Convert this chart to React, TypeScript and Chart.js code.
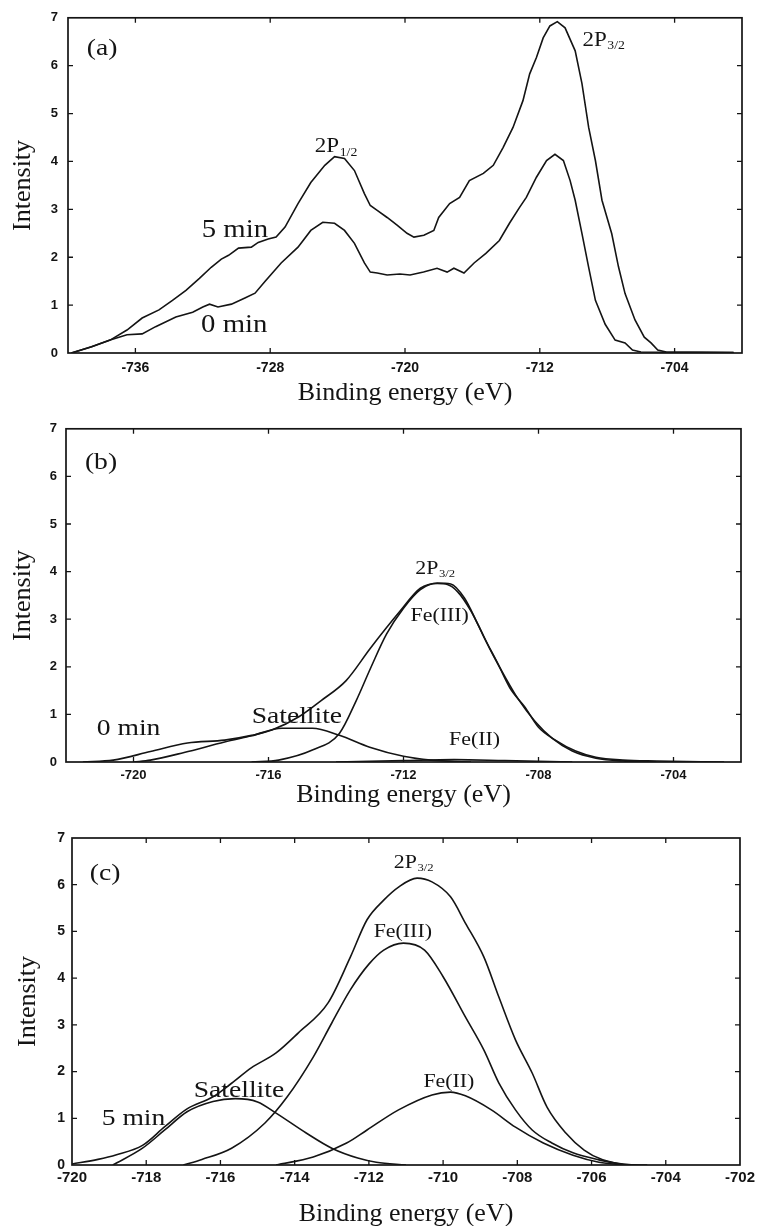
import React, { useEffect, useRef } from 'react';
import { Chart, registerables } from 'chart.js';

Chart.register(...registerables);

const SERIF = '"Liberation Serif", "Times New Roman", Times, serif';
const SANS = '"Liberation Sans", Arial, Helvetica, sans-serif';
const INK = '#141414';
const STRETCH = 1.15;

// ---------- Panel (a): Fe 2p spectra, 0 min and 5 min ----------
const aTicksX = [-736, -728, -720, -712, -704];
const aEnergy5 = [-739.8, -738.6, -737.5, -736.5, -735.6, -734.6, -733.8, -733.0, -732.2, -731.5, -730.9, -730.47, -729.88, -729.12, -728.71, -728.12, -727.65, -727.12, -726.35, -725.59, -724.76, -724.18, -723.59, -723.0, -722.41, -722.06, -721.65, -721.06, -720.47, -719.88, -719.47, -718.88, -718.29, -718.0, -717.35, -716.76, -716.18, -715.35, -714.76, -714.18, -713.59, -713.0, -712.6, -712.2, -711.8, -711.4, -710.96, -710.5, -709.9, -709.5, -709.1, -708.7, -708.31, -707.73, -707.33, -706.94, -706.35, -705.8, -705.4, -705.0, -704.5, -700.5];
const aIntensity5 = [0, 0.13, 0.27, 0.48, 0.73, 0.9, 1.1, 1.31, 1.56, 1.79, 1.96, 2.04, 2.19, 2.21, 2.31, 2.38, 2.42, 2.63, 3.12, 3.56, 3.92, 4.1, 4.06, 3.81, 3.33, 3.08, 2.98, 2.83, 2.67, 2.5, 2.42, 2.46, 2.56, 2.83, 3.12, 3.25, 3.6, 3.75, 3.92, 4.29, 4.71, 5.27, 5.83, 6.17, 6.58, 6.83, 6.92, 6.79, 6.31, 5.63, 4.71, 4.02, 3.19, 2.49, 1.8, 1.24, 0.69, 0.33, 0.21, 0.06, 0.02, 0.01];
const aEnergy0 = [-739.8, -738.6, -737.5, -736.5, -735.6, -734.8, -733.6, -732.6, -732.0, -731.6, -731.1, -730.3, -729.5, -728.9, -728.3, -727.35, -726.35, -725.59, -724.88, -724.18, -723.59, -723.0, -722.41, -722.06, -721.65, -721.06, -720.3, -719.7, -718.9, -718.1, -717.5, -717.1, -716.5, -715.9, -715.2, -714.4, -713.8, -713.2, -712.8, -712.2, -711.6, -711.1, -710.6, -710.2, -709.9, -709.5, -709.1, -708.7, -708.12, -707.53, -706.94, -706.5, -706.0, -700.5];
const aIntensity0 = [0, 0.13, 0.27, 0.38, 0.4, 0.55, 0.75, 0.85, 0.96, 1.02, 0.96, 1.02, 1.15, 1.25, 1.5, 1.88, 2.21, 2.56, 2.73, 2.71, 2.56, 2.29, 1.88, 1.69, 1.67, 1.63, 1.65, 1.63, 1.69, 1.77, 1.69, 1.77, 1.67, 1.88, 2.08, 2.35, 2.71, 3.04, 3.25, 3.67, 4.02, 4.15, 4.02, 3.6, 3.19, 2.5, 1.79, 1.1, 0.6, 0.27, 0.21, 0.06, 0.02, 0.01];

// ---------- Panel (b): 0 min, 2p3/2 deconvolution ----------
const bTicksX = [-720, -716, -712, -708, -704];
const bEnvEnergy = [-721.5, -720.6, -719.5, -718.4, -717.3, -716.5, -715.9, -715.1, -714.44, -713.7, -712.97, -712.1, -711.5, -711.0, -710.7, -710.4, -710.0, -709.6, -709.2, -708.85, -708.4, -708.0, -707.5, -706.9, -706.3, -705.5, -704.5, -702.5];
const bEnvIntensity = [0, 0.04, 0.22, 0.4, 0.46, 0.56, 0.67, 0.95, 1.29, 1.71, 2.4, 3.17, 3.65, 3.75, 3.73, 3.58, 3.17, 2.6, 2.06, 1.56, 1.15, 0.73, 0.46, 0.23, 0.1, 0.04, 0.02, 0];
const bFe3Energy = [-716.5, -715.7, -714.7, -713.9, -713.4, -712.97, -712.5, -712.0, -711.5, -711.0, -710.6, -710.2, -709.8, -709.4, -709.0, -708.6, -708.1, -707.6, -707.0, -706.3, -705.5, -704.5];
const bFe3Intensity = [0, 0.04, 0.25, 0.6, 1.29, 1.98, 2.69, 3.23, 3.62, 3.76, 3.74, 3.45, 2.9, 2.32, 1.8, 1.32, 0.85, 0.5, 0.23, 0.08, 0.02, 0];
const bFe2Energy = [-714.0, -712.0, -710.5, -709.0, -707.0];
const bFe2Intensity = [0, 0.03, 0.05, 0.03, 0];
const bSatEnergy = [-720.0, -719.5, -718.5, -717.3, -716.5, -715.6, -714.7, -713.9, -713.0, -712.0, -711.2, -710.0];
const bSatIntensity = [0, 0.04, 0.2, 0.42, 0.55, 0.71, 0.71, 0.56, 0.31, 0.12, 0.04, 0];

// ---------- Panel (c): 5 min, 2p3/2 deconvolution ----------
const cTicksX = [-720, -718, -716, -714, -712, -710, -708, -706, -704, -702];
const cEnvEnergy = [-720.0, -719.3, -718.8, -718.1, -717.5, -716.9, -716.2, -715.7, -715.17, -714.5, -713.9, -713.1, -712.5, -712.05, -711.6, -711.2, -710.7, -710.3, -709.8, -709.4, -708.9, -708.5, -708.05, -707.6, -707.2, -706.7, -706.2, -705.7, -705.0, -704.5];
const cEnvIntensity = [0.02, 0.12, 0.22, 0.42, 0.82, 1.2, 1.46, 1.75, 2.08, 2.4, 2.83, 3.47, 4.45, 5.25, 5.67, 5.95, 6.14, 6.06, 5.74, 5.18, 4.45, 3.6, 2.68, 1.97, 1.24, 0.69, 0.32, 0.11, 0.01, 0];
const cFe3Energy = [-717.0, -716.5, -715.7, -714.8, -714.2, -713.5, -713.0, -712.5, -712.0, -711.6, -711.07, -710.5, -710.0, -709.4, -708.9, -708.5, -708.05, -707.6, -707.07, -706.5, -705.8, -705.1];
const cFe3Intensity = [0, 0.12, 0.36, 0.9, 1.46, 2.31, 3.04, 3.75, 4.3, 4.6, 4.75, 4.6, 4.03, 3.17, 2.46, 1.76, 1.18, 0.75, 0.47, 0.26, 0.11, 0];
const cFe2Energy = [-714.5, -713.5, -712.6, -712.05, -711.2, -710.3, -709.8, -709.4, -708.7, -708.05, -707.3, -706.5, -705.8, -705.1];
const cFe2Intensity = [0, 0.17, 0.47, 0.75, 1.18, 1.5, 1.56, 1.48, 1.18, 0.81, 0.47, 0.21, 0.06, 0];
const cSatEnergy = [-718.9, -718.1, -717.5, -716.9, -716.2, -715.6, -715.0, -714.5, -713.7, -713.0, -712.3, -711.8, -711.0];
const cSatIntensity = [0, 0.36, 0.75, 1.14, 1.36, 1.42, 1.35, 1.11, 0.69, 0.36, 0.15, 0.06, 0];

const yTicks = [0, 1, 2, 3, 4, 5, 6, 7];

type Label = { text: string; sub?: string; x: number; y: number; size: number };

const aLabels: Label[] = [
  { text: '(a)', x: -738.88, y: 6.23, size: 24 },
  { text: '2P', sub: '1/2', x: -725.35, y: 4.19, size: 20 },
  { text: '2P', sub: '3/2', x: -709.47, y: 6.42, size: 20 },
  { text: '5 min', x: -732.06, y: 2.42, size: 25 },
  { text: '0 min', x: -732.1, y: 0.44, size: 25 },
];
const bLabels: Label[] = [
  { text: '(b)', x: -721.44, y: 6.15, size: 24 },
  { text: '2P', sub: '3/2', x: -711.65, y: 3.96, size: 19 },
  { text: 'Fe(III)', x: -711.79, y: 2.96, size: 19 },
  { text: 'Fe(II)', x: -710.65, y: 0.35, size: 19 },
  { text: 'Satellite', x: -716.5, y: 0.81, size: 24 },
  { text: '0 min', x: -721.09, y: 0.56, size: 24 },
];
const cLabels: Label[] = [
  { text: '(c)', x: -719.52, y: 6.1, size: 24 },
  { text: '2P', sub: '3/2', x: -711.33, y: 6.36, size: 19 },
  { text: 'Fe(III)', x: -711.87, y: 4.88, size: 19 },
  { text: 'Fe(II)', x: -710.53, y: 1.67, size: 19 },
  { text: 'Satellite', x: -716.72, y: 1.46, size: 24 },
  { text: '5 min', x: -719.2, y: 0.86, size: 24 },
];

const labelPlugin = {
  id: 'panelLabels',
  afterDatasetsDraw(chart: any, _args: any, opts: any) {
    const { ctx } = chart;
    const xs = chart.scales.x;
    const ys = chart.scales.y;
    const items: Label[] = (opts && opts.items) || [];
    ctx.save();
    ctx.fillStyle = INK;
    ctx.textBaseline = 'alphabetic';
    ctx.textAlign = 'left';
    for (const l of items) {
      const px = xs.getPixelForValue(l.x);
      const py = ys.getPixelForValue(l.y);
      ctx.save();
      ctx.translate(px, py);
      ctx.scale(STRETCH, 1);
      ctx.font = `${l.size}px ${SERIF}`;
      ctx.fillText(l.text, 0, 0);
      if (l.sub) {
        const w = ctx.measureText(l.text).width;
        ctx.font = `${Math.round(l.size * 0.6)}px ${SERIF}`;
        ctx.fillText(l.sub, w + 0.5, l.size * 0.17);
      }
      ctx.restore();
    }
    ctx.restore();
  },
};

const framePlugin = {
  id: 'frameTicks',
  afterDraw(chart: any) {
    const { ctx, chartArea: a } = chart;
    const xs = chart.scales.x;
    const ys = chart.scales.y;
    ctx.save();
    ctx.strokeStyle = INK;
    ctx.lineWidth = 1.7;
    ctx.strokeRect(a.left, a.top, a.right - a.left, a.bottom - a.top);
    ctx.lineWidth = 1.3;
    ctx.beginPath();
    for (const t of xs.ticks) {
      const p = xs.getPixelForValue(t.value);
      if (p <= a.left + 1 || p >= a.right - 1) continue;
      ctx.moveTo(p, a.bottom);
      ctx.lineTo(p, a.bottom - 5);
      ctx.moveTo(p, a.top);
      ctx.lineTo(p, a.top + 5);
    }
    for (const t of ys.ticks) {
      const p = ys.getPixelForValue(t.value);
      if (p <= a.top + 1 || p >= a.bottom - 1) continue;
      ctx.moveTo(a.left, p);
      ctx.lineTo(a.left + 5, p);
      ctx.moveTo(a.right, p);
      ctx.lineTo(a.right - 5, p);
    }
    ctx.stroke();
    ctx.restore();
  },
};

type Series = { e: number[]; i: number[]; smooth: boolean };

type PanelSpec = {
  top: number;
  height: number;
  xMin: number;
  xMax: number;
  xTicks: number[];
  series: Series[];
  labels: Label[];
  padTop: number;
  padRight: number;
  yWidth: number;
  xHeight: number;
  xTickSize: number;
  yTickSize: number;
  xTickPad: number;
  yTickPad: number;
  xTitlePad: number;
  yTitlePad: number;
};

function makeConfig(p: PanelSpec): any {
  return {
    type: 'line',
    data: {
      datasets: p.series.map((s, k) => ({
        label: 'series' + k,
        data: s.e.map((e, j) => ({ x: e, y: s.i[j] })),
        borderColor: INK,
        borderWidth: 1.6,
        pointRadius: 0,
        fill: false,
        tension: 0,
        cubicInterpolationMode: s.smooth ? 'monotone' : 'default',
      })),
    },
    options: {
      animation: false,
      responsive: false,
      maintainAspectRatio: false,
      devicePixelRatio: 1,
      layout: { padding: { top: p.padTop, right: p.padRight, left: 0, bottom: 0 } },
      plugins: {
        legend: { display: false },
        tooltip: { enabled: false },
        panelLabels: { items: p.labels },
      },
      scales: {
        x: {
          type: 'linear',
          min: p.xMin,
          max: p.xMax,
          afterBuildTicks: (s: any) => {
            s.ticks = p.xTicks.map((v) => ({ value: v }));
          },
          afterFit: (s: any) => {
            s.height = p.xHeight;
          },
          grid: { display: false, drawTicks: false },
          border: { display: false },
          ticks: {
            autoSkip: false,
            maxRotation: 0,
            minRotation: 0,
            padding: p.xTickPad,
            color: INK,
            font: { family: SANS, size: p.xTickSize, weight: 'bold' },
            callback: (v: any) => String(v),
          },
          title: {
            display: true,
            text: 'Binding energy (eV)',
            color: INK,
            font: { family: SERIF, size: 26, lineHeight: 0.9 },
            padding: { top: 0, bottom: p.xTitlePad },
          },
        },
        y: {
          type: 'linear',
          min: 0,
          max: 7,
          afterBuildTicks: (s: any) => {
            s.ticks = yTicks.map((v) => ({ value: v }));
          },
          afterFit: (s: any) => {
            s.width = p.yWidth;
          },
          grid: { display: false, drawTicks: false },
          border: { display: false },
          ticks: {
            padding: p.yTickPad,
            color: INK,
            font: { family: SANS, size: p.yTickSize, weight: 'bold' },
            callback: (v: any) => String(v),
          },
          title: {
            display: true,
            text: 'Intensity',
            color: INK,
            font: { family: SERIF, size: 26, lineHeight: 0.9 },
            padding: { top: p.yTitlePad, bottom: 0 },
          },
        },
      },
    },
    plugins: [labelPlugin, framePlugin],
  };
}

const panels: PanelSpec[] = [
  {
    top: 0, height: 412, xMin: -740, xMax: -700, xTicks: aTicksX,
    series: [
      { e: aEnergy5, i: aIntensity5, smooth: false },
      { e: aEnergy0, i: aIntensity0, smooth: false },
    ],
    labels: aLabels,
    padTop: 17, padRight: 17, yWidth: 68, xHeight: 59,
    xTickSize: 14, yTickSize: 13, xTickPad: 7, yTickPad: 10, xTitlePad: 7.3, yTitlePad: 11.3,
  },
  {
    top: 412, height: 408, xMin: -722, xMax: -702, xTicks: bTicksX,
    series: [
      { e: bEnvEnergy, i: bEnvIntensity, smooth: true },
      { e: bFe3Energy, i: bFe3Intensity, smooth: true },
      { e: bFe2Energy, i: bFe2Intensity, smooth: true },
      { e: bSatEnergy, i: bSatIntensity, smooth: true },
    ],
    labels: bLabels,
    padTop: 14, padRight: 18, yWidth: 66, xHeight: 58,
    xTickSize: 13, yTickSize: 13, xTickPad: 6, yTickPad: 9, xTitlePad: 13.3, yTitlePad: 11.3,
  },
  {
    top: 820, height: 406, xMin: -720, xMax: -702, xTicks: cTicksX,
    series: [
      { e: cEnvEnergy, i: cEnvIntensity, smooth: true },
      { e: cFe3Energy, i: cFe3Intensity, smooth: true },
      { e: cFe2Energy, i: cFe2Intensity, smooth: true },
      { e: cSatEnergy, i: cSatIntensity, smooth: true },
    ],
    labels: cLabels,
    padTop: 18, padRight: 14, yWidth: 72, xHeight: 61,
    xTickSize: 15, yTickSize: 14, xTickPad: 4, yTickPad: 7, xTitlePad: 0.3, yTitlePad: 16.3,
  },
];

function Panel({ spec }: { spec: PanelSpec }) {
  const ref = useRef<HTMLCanvasElement>(null);
  useEffect(() => {
    if (!ref.current) return;
    const chart = new Chart(ref.current, makeConfig(spec));
    return () => chart.destroy();
  }, [spec]);
  return (
    <canvas
      ref={ref}
      width={759}
      height={spec.height}
      style={{ position: 'absolute', left: 0, top: spec.top, width: 759, height: spec.height, display: 'block' }}
    />
  );
}

export default function App() {
  return (
    <div style={{ position: 'absolute', left: 0, top: 0, width: 759, height: 1226, background: '#fff', overflow: 'hidden' }}>
      {panels.map((p, k) => (
        <Panel key={k} spec={p} />
      ))}
    </div>
  );
}
